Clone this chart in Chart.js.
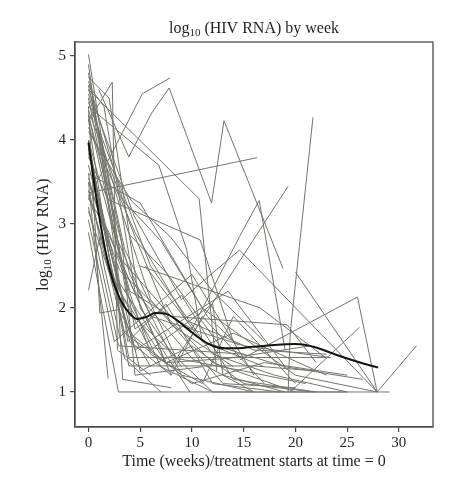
<!DOCTYPE html>
<html>
<head>
<meta charset="utf-8">
<script src="https://cdn.jsdelivr.net/npm/chart.js@4/dist/chart.umd.min.js"></script>
<style>
html,body{margin:0;padding:0;background:#fff;}
#wrap{width:459px;height:479px;}
</style>
</head>
<body>
<div id="wrap"><canvas id="c" width="459" height="479"></canvas></div>
<script>
// ---- Data ----
const xTicks = [0, 5, 10, 15, 20, 25, 30];
const yTicks = [1, 2, 3, 4, 5];

// smoothed mean curve
const smoothWeeks  = [0, 1, 2, 3, 4, 4.7, 5.5, 6.5, 7.5, 8.5, 9.5, 10.5, 11.5, 12.5, 13.5, 14.5, 16, 18, 20, 22, 24, 26, 28];
const smoothValues = [3.97, 3.12, 2.48, 2.12, 1.93, 1.87, 1.89, 1.94, 1.93, 1.86, 1.76, 1.66, 1.58, 1.53, 1.52, 1.52, 1.54, 1.56, 1.57, 1.53, 1.44, 1.36, 1.29];

// individual patient trajectories: weeks and log10(HIV RNA)
const patientWeeks = [
  [0, 3.6, 7, 12],
  [0, 2, 5, 9],
  [0, 10.7, 12.4],
  [0, 2.3, 2.8, 6],
  [0, 5.2, 7.9],
  [1, 3.9, 6.1, 7.8, 11.9, 13.1, 18.8],
  [0, 16.3],
  [0, 4, 8, 14],
  [0, 1.5, 4.5, 10, 16],
  [0, 2, 4, 8],
  [0, 1.5, 3.5, 7],
  [0, 1.1, 3.5, 8],
  [0, 1.9],
  [0, 1.1, 2.9, 6],
  [0, 2.5, 3.3, 8],
  [0.3, 3.2, 4.5, 11],
  [0, 1.9, 10.8, 14],
  [0, 4.2, 7.9, 12, 17],
  [0, 6.8, 9.5, 11, 17],
  [4, 7.6, 13],
  [0, 3, 12, 20],
  [0, 2.5, 6, 15, 23.4],
  [0, 3.9, 23.4],
  [0, 3.9, 16, 22],
  [0, 2.9, 9, 15],
  [0, 2.9, 29.1],
  [0, 4, 10, 14.6, 16.5, 17.6, 19],
  [8, 19.3],
  [19.3, 19.5, 21.7],
  [14.6, 26, 27.9, 31.7],
  [20, 27.9],
  [19.5, 26.2],
  [0, 3, 8, 19.2, 22],
  [0, 4, 9, 16],
  [0, 3.5, 12, 25],
  [0, 2.8, 6, 13, 20],
  [0, 1, 3, 7.5, 14, 23],
  [0, 2.2, 6, 12, 13, 19],
  [0, 3.5, 8.5, 15, 21],
  [0, 4, 10, 17, 25],
  [0.5, 4.5, 9, 14, 22],
  [0, 5, 10, 15, 21.7],
  [0, 6, 12, 18, 25],
  [3, 8, 11, 17],
  [0, 2.5, 10, 16],
  [0, 3.8, 7.5, 12, 18.5],
  [0, 3, 9.8],
  [0, 1.5, 7.5, 13.5, 21.5],
  [0, 4.5, 13.5, 19],
  [5.5, 11, 19, 26.5],
  [0, 2, 4.5, 9.5, 16, 23],
  [0, 5, 11, 20, 27.9],
  [0, 3.2, 7, 11.5, 14.5],
  [5, 16.6, 23],
  [0, 4.4, 9, 14.6, 27.9],
  [0, 2, 6, 11, 14, 20]
];
const patientValues = [
  [5.02, 2.2, 1.3, 1.0],
  [4.75, 4.5, 2.0, 1.3],
  [4.6, 3.3, 1.25],
  [4.22, 4.69, 1.5, 1.2],
  [3.3, 4.55, 4.74],
  [4.6, 3.8, 4.32, 4.62, 3.25, 4.23, 2.47],
  [3.37, 3.79],
  [4.7, 3.0, 1.8, 1.3],
  [4.65, 4.4, 2.2, 1.4, 1.0],
  [3.98, 2.6, 1.6, 1.2],
  [3.6, 2.5, 1.4, 1.0],
  [2.21, 2.85, 1.7, 1.3],
  [3.5, 1.16],
  [4.4, 1.94, 1.98, 1.3],
  [4.8, 3.0, 1.15, 1.05],
  [4.5, 2.8, 1.2, 1.3],
  [3.8, 3.29, 2.81, 1.6],
  [4.1, 3.27, 2.85, 2.2, 1.6],
  [4.4, 3.7, 2.69, 1.6, 1.3],
  [2.87, 2.41, 1.5],
  [3.5, 2.45, 1.35, 1.0],
  [4.3, 2.9, 1.9, 1.55, 1.41],
  [3.9, 1.41, 1.41],
  [4.0, 1.31, 1.31, 1.25],
  [3.2, 1.55, 1.5, 1.45],
  [2.9, 1.0, 1.0],
  [4.0, 2.2, 1.75, 2.85, 3.28, 2.5, 1.5],
  [1.3, 3.45],
  [1.0, 1.7, 4.27],
  [1.38, 2.13, 1.0, 1.55],
  [2.43, 1.0],
  [1.0, 1.77],
  [4.5, 2.6, 1.9, 1.8, 1.35],
  [4.3, 2.4, 1.2, 1.0],
  [3.7, 2.0, 1.0, 1.0],
  [4.55, 3.3, 2.1, 1.1, 1.05],
  [4.0, 3.3, 2.2, 1.35, 1.7, 1.2],
  [3.4, 2.4, 1.5, 2.05, 1.2, 1.0],
  [4.65, 2.7, 1.4, 1.25, 1.1],
  [3.15, 1.7, 1.1, 1.35, 1.2],
  [4.3, 1.75, 2.15, 1.15, 1.0],
  [3.85, 1.25, 1.55, 1.1, 1.0],
  [4.45, 2.5, 1.45, 1.2, 1.0],
  [2.6, 1.2, 1.9, 1.1],
  [3.05, 1.6, 2.4, 1.2],
  [4.9, 1.6, 2.05, 1.1, 1.0],
  [3.55, 2.3, 1.0],
  [4.25, 3.0, 1.35, 1.4, 1.55],
  [3.35, 1.5, 2.2, 1.3],
  [2.5, 1.6, 1.3, 1.15],
  [4.15, 3.6, 2.9, 1.85, 1.5, 1.45],
  [3.6, 3.25, 2.0, 1.2, 1.0],
  [4.35, 3.3, 2.8, 1.9, 1.55],
  [2.5, 2.0, 1.4],
  [4.6, 3.1, 2.1, 2.69, 1.0],
  [3.3, 2.9, 1.45, 1.1, 1.9, 1.1]
];

// ---- Build datasets ----
const FONT = '"Liberation Serif", "DejaVu Serif", serif';
const TEXT = '#231f20';
const GRAY = '#74746c';

const datasets = [{
  label: 'smooth',
  data: smoothWeeks.map((w, i) => ({x: w, y: smoothValues[i]})),
  borderColor: '#111111',
  borderWidth: 2,
  pointRadius: 0,
  cubicInterpolationMode: 'monotone',
  fill: false
}];
patientWeeks.forEach((ws, k) => {
  datasets.push({
    label: 'p' + (k + 1),
    data: ws.map((w, i) => ({x: w, y: patientValues[k][i]})),
    borderColor: GRAY,
    borderWidth: 1,
    pointRadius: 0,
    tension: 0,
    fill: false
  });
});

function drawRich(ctx, parts, cx, cy, size) {
  // parts: [text, isSub]
  const bigF = size + 'px ' + FONT;
  const subF = Math.round(size * 0.7) + 'px ' + FONT;
  let total = 0;
  parts.forEach(p => { ctx.font = p[1] ? subF : bigF; total += ctx.measureText(p[0]).width; });
  let x = cx - total / 2;
  ctx.textBaseline = 'middle';
  ctx.textAlign = 'left';
  parts.forEach(p => {
    ctx.font = p[1] ? subF : bigF;
    ctx.fillText(p[0], x, p[1] ? cy + 4 : cy);
    x += ctx.measureText(p[0]).width;
  });
}

const decor = {
  id: 'decor',
  afterDraw(chart) {
    const ctx = chart.ctx;
    const a = chart.chartArea;
    ctx.save();
    ctx.strokeStyle = '#4a4a4a';
    ctx.lineWidth = 1.3;
    ctx.strokeRect(a.left, a.top, a.right - a.left, a.bottom - a.top);
    ctx.fillStyle = TEXT;
    const cx = (a.left + a.right) / 2;
    drawRich(ctx, [['log', false], ['10', true], [' (HIV RNA) by week', false]], cx, 29, 16);
    ctx.font = '16px ' + FONT;
    ctx.textAlign = 'center';
    ctx.textBaseline = 'middle';
    ctx.fillText('Time (weeks)/treatment starts at time = 0', cx, 462);
    ctx.translate(44, (a.top + a.bottom) / 2);
    ctx.rotate(-Math.PI / 2);
    drawRich(ctx, [['log', false], ['10', true], [' (HIV RNA)', false]], 0, 0, 16);
    ctx.restore();
  }
};

new Chart(document.getElementById('c'), {
  type: 'line',
  data: { datasets },
  options: {
    responsive: false,
    animation: false,
    layout: { padding: { top: 42, right: 26, left: 0, bottom: 0 } },
    plugins: { legend: { display: false }, tooltip: { enabled: false }, title: { display: false } },
    elements: { line: { borderCapStyle: 'butt', borderJoinStyle: 'miter' } },
    scales: {
      x: {
        type: 'linear',
        min: -1.3,
        max: 33.3,
        afterBuildTicks: s => { s.ticks = xTicks.map(v => ({value: v})); },
        afterFit: s => { s.height = 52; },
        grid: { drawOnChartArea: false, drawTicks: true, tickLength: 5, color: '#4a4a4a', lineWidth: 1.2 },
        border: { display: true, color: '#4a4a4a', width: 1.3 },
        ticks: { color: TEXT, font: { family: FONT, size: 15 }, padding: 2, maxRotation: 0, callback: v => String(v) }
      },
      y: {
        type: 'linear',
        min: 0.583,
        max: 5.167,
        afterBuildTicks: s => { s.ticks = yTicks.map(v => ({value: v})); },
        afterFit: s => { s.width = 75; },
        grid: { drawOnChartArea: false, drawTicks: true, tickLength: 5, color: '#4a4a4a', lineWidth: 1.2 },
        border: { display: true, color: '#4a4a4a', width: 1.3 },
        ticks: { color: TEXT, font: { family: FONT, size: 15 }, padding: 4, callback: v => String(v) }
      }
    }
  },
  plugins: [decor]
});
</script>
</body>
</html>
